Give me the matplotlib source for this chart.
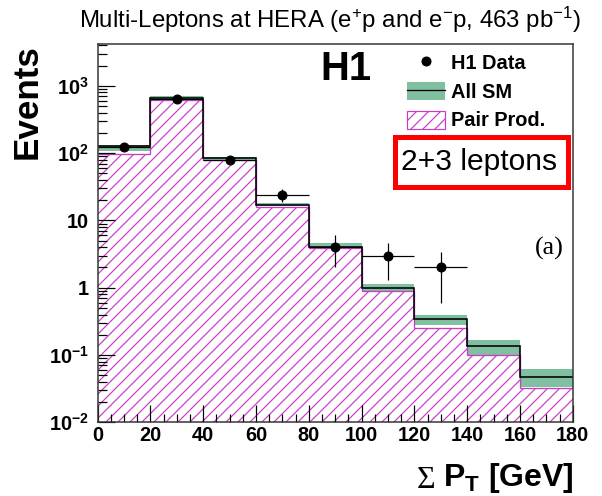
import numpy as np
import matplotlib
matplotlib.use('Agg')
import matplotlib.pyplot as plt
from matplotlib.patches import Patch, Rectangle
from matplotlib.lines import Line2D
from matplotlib.ticker import FixedLocator, FixedFormatter, LogLocator, NullFormatter

# Histogram bins in sum PT [GeV]
edges = [0, 20, 40, 60, 80, 100, 120, 140, 160, 180]

# H1 data points (bin centres, events, errors)
data_x = [10, 30, 50, 70, 90, 110, 130]
data_y = [125, 650, 80, 24, 4, 3, 2]
data_err = [11, 25, 9, 4.9, 2, 1.7, 1.4]

# All SM prediction and its uncertainty band
sm = [127, 655, 84, 17, 4.1, 0.99, 0.34, 0.137, 0.047]
sm_lo = [108, 615, 78, 16.2, 3.9, 0.90, 0.28, 0.100, 0.033]
sm_hi = [134, 700, 88, 18.0, 4.6, 1.13, 0.39, 0.165, 0.061]

# Pair production contribution
pair = [98, 615, 78, 16, 3.85, 0.88, 0.255, 0.099, 0.032]

ytick_vals = [1e-2, 1e-1, 1, 10, 1e2, 1e3]
ytick_labels = [r'$\mathbf{10^{-2}}$', r'$\mathbf{10^{-1}}$', '1', '10',
                r'$\mathbf{10^{2}}$', r'$\mathbf{10^{3}}$']
xtick_vals = [0, 20, 40, 60, 80, 100, 120, 140, 160, 180]

green = '#80c0a0'
magenta = '#c83cc8'

plt.rcParams['font.family'] = 'Liberation Sans'
plt.rcParams['mathtext.fontset'] = 'custom'
plt.rcParams['mathtext.rm'] = 'Liberation Sans'
plt.rcParams['mathtext.bf'] = 'Liberation Sans:bold'
plt.rcParams['mathtext.it'] = 'Liberation Sans:italic'
plt.rcParams['hatch.linewidth'] = 1.2

W, H = 602, 496
fig = plt.figure(figsize=(W / 72, H / 72), dpi=72)
ax = fig.add_axes([97.7 / W, 1 - 422.3 / H, 475 / W, 378.3 / H])

# SM uncertainty band
ax.stairs(sm_hi, edges, baseline=sm_lo, fill=True, color=green, lw=0)
# pair production, hatched
ax.stairs(pair, edges, baseline=1e-4, fill=True, facecolor='none',
          edgecolor=magenta, hatch='//', lw=0)
ax.stairs(pair, edges, baseline=None, color=magenta, lw=1.3)
# SM line
ax.stairs(sm, edges, baseline=None, color='black', lw=1.6)
# data
ax.errorbar(data_x, data_y, yerr=data_err, xerr=10, fmt='o', color='black',
            ms=9, elinewidth=1.2, capsize=0)

ax.set_yscale('log')
ax.set_xlim(0, 180)
ax.set_ylim(1e-2, 4200)

ax.yaxis.set_major_locator(FixedLocator(ytick_vals))
ax.yaxis.set_major_formatter(FixedFormatter(ytick_labels))
ax.yaxis.set_minor_locator(LogLocator(base=10, subs=np.arange(2, 10), numticks=20))
ax.yaxis.set_minor_formatter(NullFormatter())
ax.set_xticks(xtick_vals)
ax.set_xticks(np.arange(0, 181, 5), minor=True)

ax.tick_params(which='both', direction='in', top=False, right=False, width=1.2)
ax.tick_params(which='major', length=17)
ax.tick_params(which='minor', length=8.5)
ax.tick_params(axis='y', which='major', pad=9, labelsize=20)
ax.tick_params(axis='x', which='major', pad=4, labelsize=20)
for lab in ax.get_xticklabels() + ax.get_yticklabels():
    lab.set_fontweight('bold')
for sp in ax.spines.values():
    sp.set_linewidth(1.5)
    sp.set_color('#333333')

# texts
fig.text(330 / W, 1 - 5 / H, r'Multi-Leptons at HERA (e$^{+}$p and e$^{-}$p, 463 pb$^{-1}$)',
         ha='center', va='top', fontsize=24)
fig.text(27 / W, 1 - 44 / H, 'Events', rotation=90, ha='center', va='top',
         fontsize=35, fontweight='bold')
xl = fig.text(574 / W, 1 - 486 / H, r'$\mathbf{P_T}$ [GeV]', ha='right', va='baseline',
              fontsize=32, fontweight='bold')
ax.annotate('Σ ', xy=(0, 0), xycoords=xl, ha='right', va='bottom',
            fontsize=32, family='Liberation Serif')

ax.text(345.5 / W, 1 - 69 / H, 'H1', transform=fig.transFigure, ha='center',
        va='center', fontsize=40, fontweight='bold')
ax.text(549.7 / W, 1 - 248 / H, '(a)', transform=fig.transFigure, ha='center',
        va='center', fontsize=26, family='Liberation Serif')

# red box with lepton label
fig.patches.append(Rectangle((395 / W, 1 - 186.7 / H), 173 / W, 49.7 / H,
                             transform=fig.transFigure, fill=False,
                             edgecolor='#ff0000', lw=5))
fig.text(479 / W, 1 - 162 / H, '2+3 leptons', ha='center', va='center',
         fontsize=30)

# legend
handles = [Line2D([], [], marker='o', color='black', ls='none', ms=9),
           (Patch(facecolor=green, edgecolor='none'), Line2D([], [], color='black', lw=1.3)),
           Patch(facecolor='white', edgecolor=magenta, hatch='//', lw=1.2)]
labels = ['H1 Data', 'All SM', 'Pair Prod.']
ax.legend(handles, labels, loc='upper left', bbox_to_anchor=(406.7 / W, 1 - 53 / H),
          bbox_transform=fig.transFigure, frameon=False, borderpad=0,
          handlelength=1.9, handleheight=1.0, labelspacing=0.45,
          handletextpad=0.3, borderaxespad=0,
          prop={'weight': 'bold', 'size': 20})

fig.savefig('out.png', dpi=72)
